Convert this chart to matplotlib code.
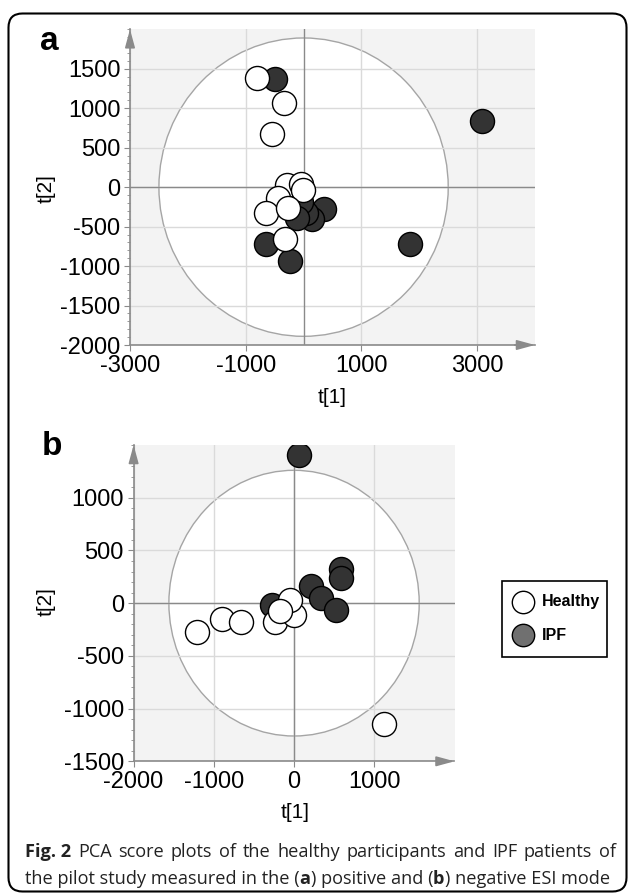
import numpy as np
import matplotlib
matplotlib.use("Agg")
import matplotlib.pyplot as plt
from matplotlib.patches import Ellipse, FancyBboxPatch, Rectangle
from matplotlib.ticker import MultipleLocator

# ---------------- datos ----------------
# panel a: modo ESI positivo
a_healthy_t1 = [-810, -330, -550, -285, -48, -9, -441, -642, -268, -325]
a_healthy_t2 = [1380, 1060, 675, 29, 38, -34, -139, -322, -266, -655]
a_ipf_t1 = [-495, 3085, 1843, 360, 150, 50, -36, -120, -656, -232]
a_ipf_t2 = [1364, 844, -715, -280, -400, -330, -183, -390, -715, -934]

# panel b: modo ESI negativo
b_healthy_t1 = [-1210, -895, -660, -240, 0, -50, -175, 1120]
b_healthy_t2 = [-275, -155, -175, -175, -110, 30, -70, -1150]
b_ipf_t1 = [60, 590, 590, 215, 335, 525, -280]
b_ipf_t2 = [1405, 320, 240, 165, 45, -65, -15]

a_xticks = [-3000, -1000, 1000, 3000]
a_yticks = [-2000, -1500, -1000, -500, 0, 500, 1000, 1500]
b_xticks = [-2000, -1000, 0, 1000]
b_yticks = [-1500, -1000, -500, 0, 500, 1000]

legend_labels = ["Healthy", "IPF"]

# ---------------- estilo ----------------
plt.rcParams.update({
    "font.family": ["Liberation Sans", "DejaVu Sans"],
    "axes.unicode_minus": False,
    "figure.facecolor": "white",
})
BG = "#f3f3f3"
GRID = "#dadada"
AXC = "#8a8a8a"
DARK = "#333333"

W, H = 629, 894
fig = plt.figure(figsize=(W / 100, H / 100), dpi=100)


def px_axes(l, t, r, b):
    return fig.add_axes([l / W, 1 - b / H, (r - l) / W, (b - t) / H])


def style(ax, xlim, ylim, xticks, yticks, ell):
    ax.set_facecolor(BG)
    ax.set_xlim(xlim); ax.set_ylim(ylim)
    ax.set_xticks(xticks); ax.set_yticks(yticks)
    ax.yaxis.set_minor_locator(MultipleLocator(100))
    ax.set_axisbelow(True)
    ax.grid(True, which="major", color=GRID, lw=1)
    ax.add_patch(Ellipse((0, 0), 2 * ell[0], 2 * ell[1], facecolor="white",
                         edgecolor="#a5a5a5", lw=1, zorder=0.2))
    ax.axhline(0, color=AXC, lw=1, zorder=0.6)
    ax.axvline(0, color=AXC, lw=1, zorder=0.6)
    for s in ("top", "right"):
        ax.spines[s].set_visible(False)
    for s in ("left", "bottom"):
        ax.spines[s].set_color(AXC); ax.spines[s].set_linewidth(1.2)
    ax.tick_params(which="both", direction="out", color=AXC,
                   labelcolor="black", labelsize=17, pad=3)
    ax.tick_params(which="major", length=4)
    ax.tick_params(which="minor", length=2.5)
    arr = dict(arrowstyle="-|>,head_length=1.1,head_width=0.3", color=AXC,
               lw=1.2, shrinkA=0, shrinkB=0)
    ax.annotate("", xy=(1, 0), xytext=(0.95, 0), xycoords="axes fraction",
                arrowprops=arr, annotation_clip=False)
    ax.annotate("", xy=(0, 1), xytext=(0, 0.95), xycoords="axes fraction",
                arrowprops=arr, annotation_clip=False)


def puntos(ax, h1, h2, i1, i2):
    ax.scatter(i1, i2, s=300, c=DARK, edgecolors="black", linewidths=1, zorder=2)
    ax.scatter(h1, h2, s=300, c="white", edgecolors="black", linewidths=1, zorder=3)


# ---- panel a ----
ax_a = px_axes(130, 29.3, 535, 345)
style(ax_a, (-3000, 4000), (-2000, 2000), a_xticks, a_yticks, (2500, 1890))
puntos(ax_a, a_healthy_t1, a_healthy_t2, a_ipf_t1, a_ipf_t2)
ax_a.set_xlabel("t[1]", fontsize=15)
ax_a.set_ylabel("t[2]", fontsize=15)
ax_a.xaxis.set_label_coords(0.499, -0.136)
ax_a.yaxis.set_label_coords(-0.183, 0.497)

# ---- panel b ----
ax_b = px_axes(133.6, 445, 454.5, 761.3)
style(ax_b, (-2000, 2000), (-1500, 1500), b_xticks, b_yticks, (1560, 1260))
puntos(ax_b, b_healthy_t1, b_healthy_t2, b_ipf_t1, b_ipf_t2)
ax_b.set_xlabel("t[1]", fontsize=15)
ax_b.set_ylabel("t[2]", fontsize=15)
ax_b.xaxis.set_label_coords(0.503, -0.132)
ax_b.yaxis.set_label_coords(-0.242, 0.504)

# ---- capa en pixeles: marco, letras, leyenda, pie ----
ov = fig.add_axes([0, 0, 1, 1], zorder=10)
ov.set_xlim(0, W); ov.set_ylim(H, 0); ov.axis("off"); ov.patch.set_alpha(0)

ov.add_patch(FancyBboxPatch((8.5, 13.5), 618, 878,
                            boxstyle="round,pad=0,rounding_size=14",
                            lw=1.5, ec="black", fc="none"))
ov.text(40, 50, "a", fontsize=24, fontweight="bold", va="baseline")
ov.text(42, 455, "b", fontsize=24, fontweight="bold", va="baseline")

# leyenda
ov.add_patch(Rectangle((502, 580.7), 105, 76.3, fc="white", ec="black", lw=1.2))
for lab, fc, yy in zip(legend_labels, ["white", "#707070"], [601.7, 635]):
    ov.scatter([522.7], [yy], s=260, c=fc, edgecolors="black", linewidths=1)
    ov.text(542, yy, lab, fontsize=11.5, fontweight="bold", va="center")

# pie de figura
rend = fig.canvas.get_renderer()
CAP = dict(fontsize=13.1, va="baseline", family=["Open Sans", "DejaVu Sans"],
           color="#222222")


def rich(x, y, parts):
    for s, w in parts:
        t = ov.text(x, y, s, fontweight=w, **CAP)
        x += t.get_window_extent(renderer=rend).width


def justified(x0, x1, y, words):
    ts = [ov.text(0, y, s, fontweight=w, **CAP) for s, w in words]
    ws = [t.get_window_extent(renderer=rend).width for t in ts]
    gap = (x1 - x0 - sum(ws)) / (len(ts) - 1)
    x = x0
    for t, w in zip(ts, ws):
        t.set_x(x)
        x += w + gap


linea1 = "PCA score plots of the healthy participants and IPF patients of".split()
justified(25, 616, 856.7, [("Fig. 2", "bold")] + [(w, "normal") for w in linea1])
rich(25, 883.8, [("the pilot study measured in the (", "normal"), ("a", "bold"),
                 (") positive and (", "normal"), ("b", "bold"),
                 (") negative ESI mode", "normal")])

fig.savefig("out.png", dpi=100)
